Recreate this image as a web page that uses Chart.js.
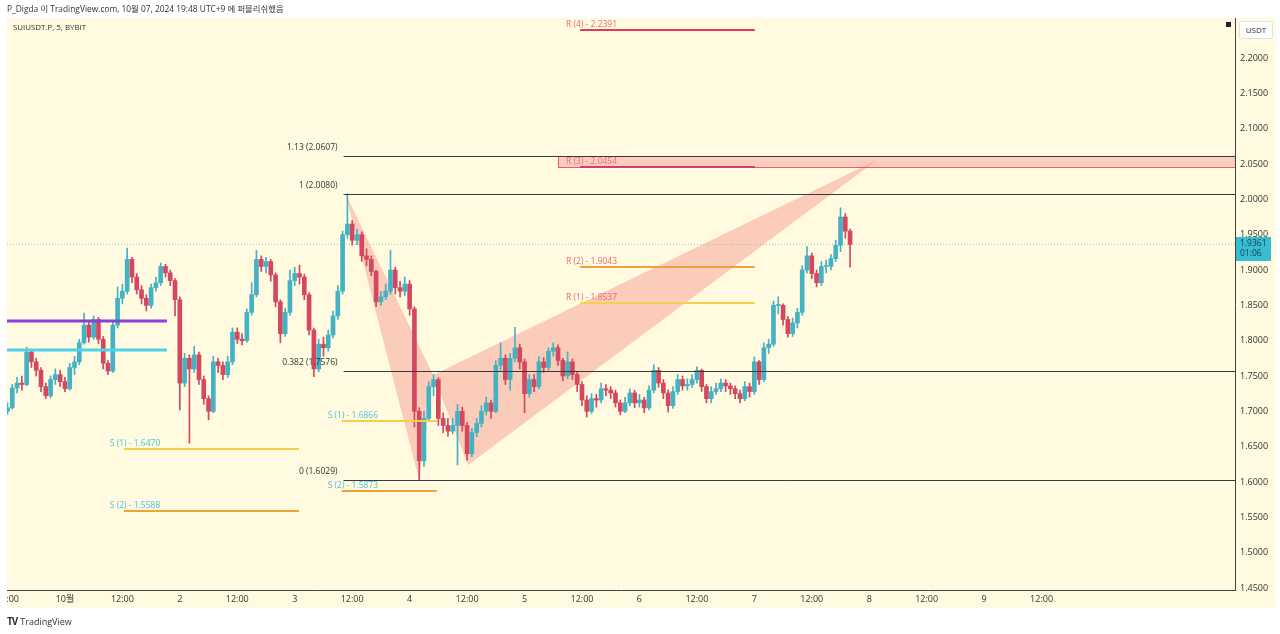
<!DOCTYPE html>
<html lang="ko">
<head>
<meta charset="utf-8">
<title>SUIUSDT.P, 5, BYBIT</title>
<script src="https://cdn.jsdelivr.net/npm/chart.js@4.4.1/dist/chart.umd.min.js"></script>
<style>
  html, body { margin: 0; padding: 0; background: #fff; }
  #wrap { position: relative; width: 1280px; height: 634px; overflow: hidden;
          font-family: "Open Sans", "Noto Sans CJK KR", sans-serif; }
  canvas { position: absolute; left: 0; top: 0; }
  .txt { position: absolute; white-space: nowrap; color: #333; line-height: 1; }
  #header { left: 7px; top: 5px; font-size: 8.4px; }
  #symbol { left: 13px; top: 24px; font-size: 7.9px; }
  #usdt { left: 1239px; top: 21px; width: 32px; height: 16px; border: 1px solid #e2e2e2;
          background: #fff; font-size: 8px; text-align: center; line-height: 16px; color: #333; border-radius: 2px; }
  #footer { left: 7px; top: 616px; font-size: 9px; color: #333; }
  #footer b { font-size: 10px; letter-spacing: -1px; margin-right: 3px; }
</style>
</head>
<body>
<div id="wrap">
  <canvas id="chart" width="1280" height="634"></canvas>
  <div class="txt" id="header">P_Digda 이 TradingView.com, 10월 07, 2024 19:48 UTC+9 에 퍼블리쉬했음</div>
  <div class="txt" id="symbol">SUIUSDT.P, 5, BYBIT</div>
  <div class="txt" id="usdt">USDT</div>
  <div class="txt" id="footer"><b>TV</b>TradingView</div>
</div>
<script>
// hourly candles, hour 0 = 10월 1 00:00
const startHour = -12;
const firstOpen = 1.700;
const closes = [
  1.705, 1.733, 1.740, 1.738, 1.784, 1.770, 1.758, 1.735, 1.722, 1.745, 1.752, 1.742,
  1.732, 1.762, 1.770, 1.797, 1.822, 1.805, 1.830, 1.802, 1.768, 1.757,
  1.822, 1.860, 1.870, 1.915, 1.890, 1.872, 1.860, 1.850, 1.875, 1.882,
  1.905, 1.896, 1.885, 1.858, 1.740, 1.775, 1.760, 1.780, 1.745, 1.718,
  1.700, 1.770, 1.765, 1.752, 1.770, 1.812, 1.802, 1.800, 1.840, 1.865,
  1.915, 1.905, 1.912, 1.893, 1.855, 1.810, 1.840, 1.885, 1.895, 1.890,
  1.865, 1.815, 1.760, 1.795, 1.790, 1.808, 1.835, 1.870, 1.950, 1.965,
  1.942, 1.950, 1.920, 1.915, 1.898, 1.855, 1.862, 1.870, 1.900, 1.875,
  1.870, 1.880, 1.845, 1.700, 1.630, 1.690, 1.735, 1.745, 1.690, 1.680,
  1.672, 1.680, 1.700, 1.680, 1.640, 1.670, 1.683, 1.700, 1.712, 1.700,
  1.765, 1.775, 1.745, 1.775, 1.790, 1.770, 1.725, 1.745, 1.735, 1.770,
  1.762, 1.785, 1.790, 1.772, 1.750, 1.770, 1.752, 1.738, 1.716, 1.700,
  1.718, 1.716, 1.732, 1.730, 1.726, 1.712, 1.700, 1.712, 1.726, 1.712,
  1.716, 1.705, 1.730, 1.758, 1.740, 1.726, 1.708, 1.728, 1.745, 1.736,
  1.738, 1.745, 1.758, 1.735, 1.718, 1.728, 1.732, 1.740, 1.736, 1.732,
  1.725, 1.718, 1.735, 1.728, 1.770, 1.745, 1.790, 1.795, 1.850, 1.850,
  1.830, 1.810, 1.825, 1.840, 1.900, 1.920, 1.895, 1.882, 1.905, 1.905,
  1.916, 1.935, 1.975, 1.955, 1.9361
];
const highs = [
  1.712, 1.738, 1.748, 1.750, 1.791, 1.788, 1.775, 1.762, 1.740, 1.750, 1.760, 1.758,
  1.748, 1.768, 1.778, 1.802, 1.839, 1.826, 1.835, 1.833, 1.806, 1.772,
  1.828, 1.876, 1.880, 1.931, 1.918, 1.895, 1.878, 1.865, 1.880, 1.890,
  1.910, 1.908, 1.900, 1.888, 1.862, 1.782, 1.780, 1.792, 1.784, 1.750,
  1.722, 1.778, 1.775, 1.770, 1.778, 1.818, 1.818, 1.810, 1.845, 1.882,
  1.928, 1.920, 1.918, 1.915, 1.896, 1.858, 1.846, 1.900, 1.904, 1.907,
  1.894, 1.868, 1.818, 1.802, 1.805, 1.815, 1.842, 1.878, 1.955, 2.008,
  1.970, 1.958, 1.954, 1.930, 1.920, 1.900, 1.870, 1.880, 1.928, 1.904,
  1.884, 1.890, 1.885, 1.848, 1.705, 1.700, 1.742, 1.752, 1.748, 1.698,
  1.690, 1.690, 1.710, 1.706, 1.684, 1.676, 1.690, 1.708, 1.720, 1.716,
  1.772, 1.797, 1.780, 1.782, 1.819, 1.795, 1.774, 1.752, 1.752, 1.778,
  1.776, 1.790, 1.797, 1.794, 1.775, 1.784, 1.774, 1.756, 1.742, 1.722,
  1.725, 1.724, 1.740, 1.738, 1.735, 1.730, 1.716, 1.720, 1.732, 1.730,
  1.724, 1.720, 1.736, 1.766, 1.762, 1.745, 1.730, 1.735, 1.752, 1.750,
  1.746, 1.752, 1.763, 1.760, 1.738, 1.735, 1.740, 1.746, 1.745, 1.740,
  1.736, 1.730, 1.742, 1.740, 1.777, 1.772, 1.797, 1.802, 1.856, 1.862,
  1.852, 1.834, 1.832, 1.846, 1.906, 1.933, 1.924, 1.900, 1.912, 1.914,
  1.922, 1.942, 1.988, 1.980, 1.958
];
const lows = [
  1.696, 1.703, 1.726, 1.730, 1.736, 1.762, 1.750, 1.728, 1.718, 1.719, 1.738, 1.735,
  1.728, 1.730, 1.752, 1.766, 1.795, 1.798, 1.802, 1.796, 1.760, 1.752,
  1.755, 1.818, 1.852, 1.866, 1.882, 1.866, 1.852, 1.842, 1.846, 1.870,
  1.878, 1.890, 1.878, 1.835, 1.702, 1.735, 1.655, 1.755, 1.738, 1.710,
  1.688, 1.698, 1.755, 1.745, 1.748, 1.766, 1.796, 1.794, 1.798, 1.836,
  1.862, 1.898, 1.896, 1.884, 1.848, 1.797, 1.806, 1.836, 1.878, 1.880,
  1.858, 1.808, 1.749, 1.756, 1.778, 1.785, 1.804, 1.830, 1.866, 1.945,
  1.935, 1.936, 1.912, 1.906, 1.892, 1.848, 1.850, 1.858, 1.866, 1.866,
  1.862, 1.864, 1.836, 1.678, 1.603, 1.622, 1.686, 1.722, 1.680, 1.670,
  1.665, 1.668, 1.624, 1.672, 1.631, 1.636, 1.664, 1.678, 1.695, 1.690,
  1.698, 1.758, 1.738, 1.730, 1.770, 1.760, 1.698, 1.720, 1.728, 1.732,
  1.755, 1.758, 1.778, 1.765, 1.743, 1.746, 1.745, 1.728, 1.708, 1.692,
  1.697, 1.706, 1.712, 1.722, 1.718, 1.706, 1.695, 1.698, 1.708, 1.705,
  1.706, 1.698, 1.702, 1.726, 1.734, 1.718, 1.699, 1.704, 1.724, 1.730,
  1.730, 1.734, 1.740, 1.728, 1.712, 1.712, 1.724, 1.728, 1.728, 1.724,
  1.718, 1.712, 1.715, 1.720, 1.724, 1.738, 1.742, 1.782, 1.792, 1.838,
  1.822, 1.805, 1.806, 1.818, 1.836, 1.896, 1.888, 1.876, 1.878, 1.896,
  1.900, 1.912, 1.926, 1.945, 1.904
];

const xTickHours = [-12, 0, 12, 24, 36, 48, 60, 72, 84, 96, 108, 120, 132, 144, 156, 168, 180, 192, 204];
const xTickLabels = ['12:00', '10월', '12:00', '2', '12:00', '3', '12:00', '4', '12:00', '5',
                     '12:00', '6', '12:00', '7', '12:00', '8', '12:00', '9', '12:00'];
const yTicks = [1.45, 1.50, 1.55, 1.60, 1.65, 1.70, 1.75, 1.80, 1.85, 1.90, 1.95, 2.00, 2.05, 2.10, 2.15, 2.20];

// fib retracement
const fibValues = [2.0607, 2.0080, 1.7576, 1.6029];
const fibLabels = ['1.13 (2.0607)', '1 (2.0080)', '0.382 (1.7576)', '0 (1.6029)'];
const fibStartHour = 58.2;

// pivot levels: label, value, from hour, to hour
const pivotLabels = ['R (4) - 2.2391', 'R (3) - 2.0454', 'R (2) - 1.9043', 'R (1) - 1.8537',
                     'S (1) - 1.6866', 'S (2) - 1.5873', 'S (1) - 1.6470', 'S (2) - 1.5588'];
const pivotValues = [2.2391, 2.0454, 1.9043, 1.8537, 1.6866, 1.5873, 1.6470, 1.5588];
const pivotFrom = [107.6, 107.6, 107.6, 107.6, 57.8, 57.8, 12.3, 12.3];
const pivotTo = [144.1, 144.1, 144.1, 144.1, 77.7, 77.7, 48.9, 48.9];

// older levels on the left
const sideValues = [1.8278, 1.7868];
const sideFrom = -12.1, sideTo = 21.3;

// R(3) zone
const zoneTop = 2.0607, zoneBottom = 2.0454, zoneFrom = 103.0;

// XABCD pattern points [hour, price]
const patternX = [58.6, 2.0080];
const patternA = [74.0, 1.6029];
const patternB = [76.9, 1.7514];
const patternC = [84.2, 1.6241];
const patternD = [169.6, 2.0557];

const lastPrice = 1.9361;
const countdown = '01:06';

const UP = '#45b2c4';
const DOWN = '#d3485f';
const PANEL = '#fffae0';
const pivotLine = ['#e23a52', '#d63a78', '#f0a33a', '#f3d24a', '#f3d24a', '#f0a33a', '#f3d24a', '#f0a33a'];
const pivotText = ['#ec6a7e', '#ec6a7e', '#ec6a7e', '#ec6a7e', '#4cc3da', '#4cc3da', '#4cc3da', '#4cc3da'];
const sideColors = ['#8a3fd6', '#4fd2ea'];

const hours = closes.map((_, i) => startHour + i);
const opens = closes.map((c, i) => i === 0 ? firstOpen : closes[i - 1]);
const up = i => closes[i] >= opens[i];

const overlay = {
  id: 'overlay',
  beforeDraw(chart) {
    const { ctx } = chart;
    ctx.save();
    ctx.fillStyle = '#fff';
    ctx.fillRect(0, 0, chart.width, chart.height);
    ctx.fillStyle = PANEL;
    ctx.fillRect(7, 18, 1269, 590);
    ctx.restore();
  },
  beforeDatasetsDraw(chart) {
    const { ctx, chartArea: a, scales: { x, y } } = chart;
    const P = p => [x.getPixelForValue(p[0]), y.getPixelForValue(p[1])];
    ctx.save();
    ctx.beginPath();
    ctx.rect(a.left, a.top, a.right - a.left, a.bottom - a.top);
    ctx.clip();
    ctx.fillStyle = 'rgba(242, 85, 85, 0.28)';
    [[patternX, patternA, patternB], [patternB, patternC, patternD]].forEach(tri => {
      ctx.beginPath();
      tri.forEach((p, i) => { const [px, py] = P(p); i ? ctx.lineTo(px, py) : ctx.moveTo(px, py); });
      ctx.closePath();
      ctx.fill();
    });
    // last price dotted line
    const ly = Math.round(y.getPixelForValue(lastPrice)) + 0.5;
    ctx.strokeStyle = 'rgba(70, 180, 200, 0.55)';
    ctx.lineWidth = 1;
    ctx.setLineDash([1, 2]);
    ctx.beginPath();
    ctx.moveTo(a.left, ly);
    ctx.lineTo(a.right, ly);
    ctx.stroke();
    ctx.restore();
  },
  afterDatasetsDraw(chart) {
    const { ctx, chartArea: a, scales: { x, y } } = chart;
    const py = v => Math.round(y.getPixelForValue(v)) + 0.5;
    ctx.save();
    ctx.beginPath();
    ctx.rect(a.left, a.top, a.right - a.left, a.bottom - a.top);
    ctx.clip();

    // R(3) zone
    const zx = x.getPixelForValue(zoneFrom);
    const zt = y.getPixelForValue(zoneTop), zb = y.getPixelForValue(zoneBottom);
    ctx.fillStyle = 'rgba(245, 120, 130, 0.35)';
    ctx.fillRect(zx, zt, a.right - zx, zb - zt);
    ctx.strokeStyle = 'rgba(225, 70, 90, 0.85)';
    ctx.lineWidth = 1;
    ctx.strokeRect(Math.round(zx) + 0.5, Math.round(zt) + 0.5, a.right - zx, Math.round(zb - zt));

    // side levels
    sideValues.forEach((v, i) => {
      ctx.strokeStyle = sideColors[i];
      ctx.lineWidth = 3;
      ctx.beginPath();
      ctx.moveTo(x.getPixelForValue(sideFrom), Math.round(y.getPixelForValue(v)));
      ctx.lineTo(x.getPixelForValue(sideTo), Math.round(y.getPixelForValue(v)));
      ctx.stroke();
    });

    // pivots
    ctx.font = '8.5px "Open Sans", sans-serif';
    ctx.textBaseline = 'middle';
    ctx.textAlign = 'left';
    pivotValues.forEach((v, i) => {
      const x0 = x.getPixelForValue(pivotFrom[i]);
      const x1 = x.getPixelForValue(pivotTo[i]);
      const yy = Math.round(y.getPixelForValue(v));
      ctx.strokeStyle = pivotLine[i];
      ctx.lineWidth = 2;
      ctx.beginPath();
      ctx.moveTo(x0, yy);
      ctx.lineTo(x1, yy);
      ctx.stroke();
      ctx.fillStyle = pivotText[i];
      ctx.fillText(pivotLabels[i], x0 - 14, yy - 5);
    });

    // fib lines
    const fx = x.getPixelForValue(fibStartHour);
    ctx.strokeStyle = '#3a3a3a';
    ctx.lineWidth = 1;
    ctx.fillStyle = '#333';
    ctx.textAlign = 'right';
    fibValues.forEach((v, i) => {
      const yy = py(v);
      ctx.beginPath();
      ctx.moveTo(fx, yy);
      ctx.lineTo(a.right, yy);
      ctx.stroke();
      ctx.fillText(fibLabels[i], fx - 6, yy - 9);
    });
    ctx.restore();
  },
  afterDraw(chart) {
    const { ctx, chartArea: a, scales: { y } } = chart;
    ctx.save();
    // last price tag on the price axis
    const ly = Math.round(y.getPixelForValue(lastPrice));
    ctx.fillStyle = '#38bcd3';
    ctx.fillRect(a.right + 1, ly - 7, 35, 24);
    ctx.fillStyle = '#0f3f4d';
    ctx.font = '8.5px "Open Sans", sans-serif';
    ctx.textAlign = 'left';
    ctx.textBaseline = 'middle';
    ctx.fillText(lastPrice.toFixed(4), a.right + 5, ly);
    ctx.fillText(countdown, a.right + 5, ly + 10);
    // small marker top right
    ctx.fillStyle = '#222';
    ctx.fillRect(a.right - 9, 22, 5, 5);
    // clip the left tick overhang
    ctx.fillStyle = '#fff';
    ctx.fillRect(0, 18, 7, 590);
    ctx.restore();
  }
};

new Chart(document.getElementById('chart'), {
  data: {
    datasets: [
      {
        type: 'bar',
        data: hours.map((h, i) => ({ x: h, y: [lows[i], highs[i]] })),
        backgroundColor: c => up(c.dataIndex) ? UP : DOWN,
        barThickness: 1,
        grouped: false,
        order: 2
      },
      {
        type: 'bar',
        data: hours.map((h, i) => ({ x: h, y: [opens[i], closes[i]] })),
        backgroundColor: c => up(c.dataIndex) ? UP : DOWN,
        barThickness: 4,
        minBarLength: 1,
        grouped: false,
        order: 1
      }
    ]
  },
  options: {
    responsive: false,
    animation: false,
    events: [],
    layout: { padding: { left: 7, top: 18, right: 4, bottom: 26 } },
    plugins: { legend: { display: false }, tooltip: { enabled: false } },
    scales: {
      x: {
        type: 'linear',
        min: -12.1,
        max: 244.4,
        offset: false,
        afterBuildTicks: s => { s.ticks = xTickHours.map(v => ({ value: v })); },
        afterFit: s => { s.height = 18; s.paddingLeft = 0; s.paddingRight = 0; },
        grid: { display: false, drawTicks: false },
        border: { display: true, color: '#444' },
        ticks: {
          autoSkip: false,
          maxRotation: 0,
          padding: 4,
          color: '#333',
          font: { size: 9, family: '"Open Sans", "Noto Sans CJK KR", sans-serif' },
          callback: (v, i) => xTickLabels[i]
        }
      },
      y: {
        type: 'linear',
        position: 'right',
        min: 1.4472,
        max: 2.2566,
        afterBuildTicks: s => { s.ticks = yTicks.map(v => ({ value: v })); },
        afterFit: s => { s.width = 41; s.paddingTop = 0; s.paddingBottom = 0; },
        grid: { display: false, drawTicks: false },
        border: { display: true, color: '#444' },
        ticks: {
          padding: 5,
          color: '#333',
          font: { size: 9, family: '"Open Sans", sans-serif' },
          callback: v => v.toFixed(4)
        }
      }
    }
  },
  plugins: [overlay]
});
</script>
</body>
</html>
